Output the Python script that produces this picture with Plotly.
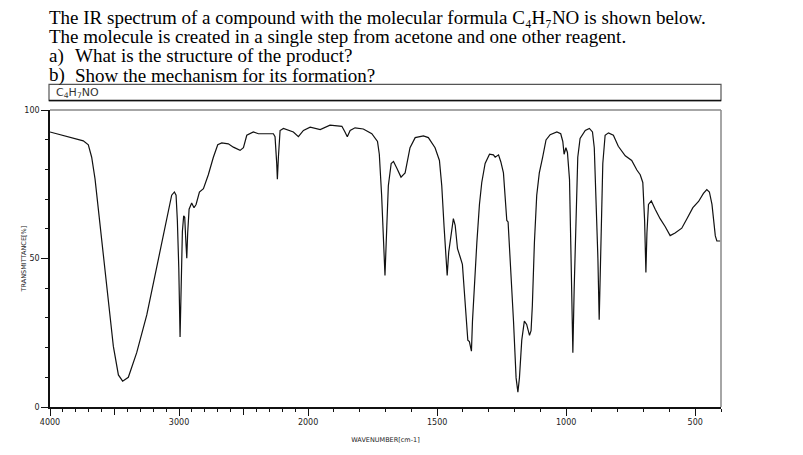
import plotly.graph_objects as go

# ---------------- data ----------------
wavenumber = [4000, 3845, 3742, 3703, 3677, 3651, 3612, 3561, 3509, 3470, 3437, 3393, 3328, 3250,
              3173, 3095, 3057, 3036, 3023, 3013, 3002, 2992, 2984, 2974, 2964, 2956, 2948, 2940,
              2933, 2922, 2902, 2884, 2868, 2842, 2811, 2773, 2734, 2700, 2669, 2618, 2579, 2527,
              2501, 2475, 2424, 2385, 2269, 2256, 2243, 2238, 2230, 2217, 2191, 2153, 2114, 2075,
              2036, 1992, 1953, 1915, 1869, 1857, 1848, 1837, 1818, 1786, 1753, 1731, 1724, 1715,
              1708, 1702, 1695, 1689, 1678, 1669, 1656, 1640, 1624, 1605, 1585, 1553, 1534, 1508,
              1491, 1482, 1473, 1466, 1461, 1455, 1446, 1437, 1430, 1421, 1411, 1402, 1395, 1388,
              1381, 1375, 1371, 1367, 1363, 1357, 1346, 1336, 1327, 1314, 1297, 1282, 1275, 1262,
              1253, 1243, 1230, 1225, 1217, 1204, 1194, 1187, 1181, 1172, 1162, 1153, 1142, 1136,
              1131, 1123, 1114, 1104, 1091, 1078, 1062, 1036, 1021, 1013, 1008, 1001, 995, 987,
              981, 974, 969, 962, 955, 946, 926, 910, 898, 891, 884, 877, 872, 865, 858, 849, 836,
              817, 798, 771, 746, 726, 713, 703, 696, 691, 687, 681, 670, 655, 636, 616, 597, 578,
              552, 532, 509, 487, 468, 455, 445, 435, 429, 422, 416, 403]
transmittance = [92.6, 90.8, 89.6, 88.3, 84.1, 76.8, 60.8, 39.5, 20.4, 10.8, 8.7, 10.0, 18.3, 31.0,
                 46.9, 63.9, 71.3, 72.4, 71.3, 62.8, 46.9, 23.6, 46.4, 59.1, 64.4, 63.9, 56.5, 50.1,
                 58.6, 66.6, 68.7, 67.1, 68.2, 72.4, 73.5, 78.2, 84.1, 88.3, 88.9, 88.6, 87.5, 86.4,
                 87.3, 91.5, 92.6, 92.0, 92.0, 91.0, 82.0, 76.7, 84.1, 93.1, 93.8, 93.1, 92.6, 91.0,
                 93.1, 94.2, 93.4, 94.9, 94.5, 92.6, 91.0, 93.1, 94.0, 93.6, 92.0, 89.4, 85.1, 71.3,
                 55.4, 44.3, 60.7, 74.5, 82.0, 82.7, 80.4, 77.4, 78.8, 87.3, 90.7, 91.3, 90.7, 87.3,
                 83.0, 74.5, 60.7, 50.1, 44.3, 52.2, 58.6, 63.4, 61.2, 53.3, 50.6, 48.0, 39.5, 28.9,
                 22.5, 22.0, 19.8, 18.8, 28.9, 39.5, 55.4, 68.2, 75.6, 82.0, 85.1, 84.9, 84.1, 84.9,
                 82.5, 78.8, 62.8, 62.3, 50.1, 28.9, 9.8, 5.0, 9.8, 22.5, 28.9, 27.8, 24.1, 25.7,
                 34.2, 55.4, 71.3, 78.8, 84.1, 89.9, 91.7, 92.6, 92.0, 89.4, 85.1, 87.3, 85.7, 76.6,
                 50.1, 18.3, 39.5, 66.0, 84.1, 90.4, 93.1, 93.8, 92.6, 87.3, 71.3, 50.1, 29.4, 60.7,
                 82.0, 91.5, 92.3, 91.5, 87.8, 84.6, 83.0, 79.8, 78.2, 75.6, 62.8, 45.3, 58.6, 68.2,
                 69.4, 66.6, 63.4, 60.7, 57.7, 58.6, 60.2, 63.4, 67.1, 69.2, 71.9, 73.2, 72.4, 68.2,
                 62.8, 57.6, 55.9, 55.9]

x_tick_labels = [4000, 3000, 2000, 1500, 1000, 500]
x_long_unlabeled = [3500, 2500]
x_minor_ticks = [w for w in range(4000, 399, -100)]
y_tick_labels = [0, 50, 100]
y_minor_ticks = list(range(0, 101, 10))

title_lines = [
    "The IR spectrum of a compound with the molecular formula C\u2084H\u2087NO is shown below.",
    "The molecule is created in a single step from acetone and one other reagent.",
]
question_labels = ["a)", "b)"]
question_texts = ["What is the structure of the product?", "Show the mechanism for its formation?"]
formula_text = "C<sub>4</sub>H<sub>7</sub>NO"
x_title = "WAVENUMBER[cm-1]"
y_title = "TRANSMITTANCE[%]"


# The instrument chart uses a split scale: 4000-2000 at half the density of 2000-400.
def wn_to_axis(w):
    return (4000 - w) if w >= 2000 else 2000 + 2 * (2000 - w)


x_axis = [wn_to_axis(w) for w in wavenumber]

W, H = 803, 455
L, R, T, B = 50, 82, 110, 31
PW, PH = W - L - R, H - T - B


def px(xp):
    return (xp - L) / PW


def py(yp):
    return (H - B - yp) / PH


fig = go.Figure()
fig.add_trace(go.Scatter(x=x_axis, y=transmittance, mode="lines",
                         line=dict(color="#111111", width=1.2), hoverinfo="skip",
                         showlegend=False))
# same trace reference on the overlay axis that carries the long unlabeled ticks
fig.add_trace(go.Scatter(x=x_axis, y=transmittance, mode="lines", xaxis="x2",
                         line=dict(color="rgba(0,0,0,0)", width=0), hoverinfo="skip",
                         showlegend=False))

minor_vals = [wn_to_axis(w) for w in x_minor_ticks if w not in x_tick_labels + x_long_unlabeled]

tickfont = dict(family="DejaVu Sans", size=8, color="#222222")
xr = [0, wn_to_axis(400)]

fig.update_layout(
    width=W, height=H,
    margin=dict(l=L, r=R, t=T, b=B, pad=0),
    paper_bgcolor="white", plot_bgcolor="white",
    xaxis=dict(range=xr, tickmode="array",
               tickvals=[wn_to_axis(v) for v in x_tick_labels],
               ticktext=[str(v) for v in x_tick_labels],
               ticks="outside", ticklen=7, tickwidth=1, tickcolor="#111111",
               minor=dict(tickmode="array", tickvals=minor_vals, ticks="outside",
                          ticklen=3, tickwidth=1, tickcolor="#111111"),
               showline=True, linecolor="#111111", linewidth=1.5,
               showgrid=False, zeroline=False, tickfont=tickfont,
               title=dict(text=x_title,
                          font=dict(family="DejaVu Sans", size=6.5, color="#222222"),
                          standoff=11)),
    xaxis2=dict(range=xr, overlaying="x", side="bottom", tickmode="array",
                tickvals=[wn_to_axis(v) for v in x_long_unlabeled],
                showticklabels=False, ticks="outside", ticklen=7, tickwidth=1,
                tickcolor="#111111", showline=False, showgrid=False, zeroline=False),
    yaxis=dict(range=[0, 100], tickmode="array", tickvals=y_tick_labels,
               ticktext=[str(v) for v in y_tick_labels],
               ticks="outside", ticklen=7, tickwidth=1, tickcolor="#111111",
               minor=dict(tickmode="array", tickvals=[v for v in y_minor_ticks if v not in y_tick_labels],
                          ticks="outside", ticklen=3, tickwidth=1, tickcolor="#111111"),
               showline=True, linecolor="#111111", linewidth=1.5,
               showgrid=False, zeroline=False, tickfont=tickfont),
)

# frame: top and right edges (grey), formula box
fig.add_shape(type="line", xref="paper", yref="paper", x0=0, x1=1, y0=1, y1=1,
              line=dict(color="#888888", width=1.5))
fig.add_shape(type="line", xref="paper", yref="paper", x0=1, x1=1, y0=0, y1=1,
              line=dict(color="#888888", width=1.5))
fig.add_shape(type="rect", xref="paper", yref="paper", x0=px(49), x1=px(721), y0=py(100), y1=py(83),
              line=dict(color="#555555", width=1.2), fillcolor="rgba(0,0,0,0)")
fig.add_shape(type="line", xref="paper", yref="paper", x0=px(49), x1=px(721), y0=py(100), y1=py(100),
              line=dict(color="#111111", width=1.5))

serif = dict(family="Liberation Serif", size=19, color="#000000")
line_y = [12, 32]
for txt, yy in zip(title_lines, line_y):
    fig.add_annotation(text=txt, xref="paper", yref="paper", x=px(47), y=py(yy),
                       xanchor="left", yanchor="middle", showarrow=False, font=serif)
q_y = [52.5, 73]
for lab, txt, yy in zip(question_labels, question_texts, q_y):
    fig.add_annotation(text=lab, xref="paper", yref="paper", x=px(47), y=py(yy),
                       xanchor="left", yanchor="middle", showarrow=False, font=serif)
    fig.add_annotation(text=txt, xref="paper", yref="paper", x=px(73), y=py(yy),
                       xanchor="left", yanchor="middle", showarrow=False, font=serif)

fig.add_annotation(text=formula_text, xref="paper", yref="paper", x=px(54), y=py(91.5),
                   xanchor="left", yanchor="middle", showarrow=False,
                   font=dict(family="DejaVu Sans", size=11, color="#333333"))

# y-axis title sits just left of the tick column, as in the instrument printout
fig.add_annotation(text=y_title, xref="paper", yref="paper", x=px(24), y=py(268),
                   xanchor="center", yanchor="middle", textangle=-90, showarrow=False,
                   font=dict(family="DejaVu Sans", size=6.5, color="#222222"))

fig.write_html("out.html")
